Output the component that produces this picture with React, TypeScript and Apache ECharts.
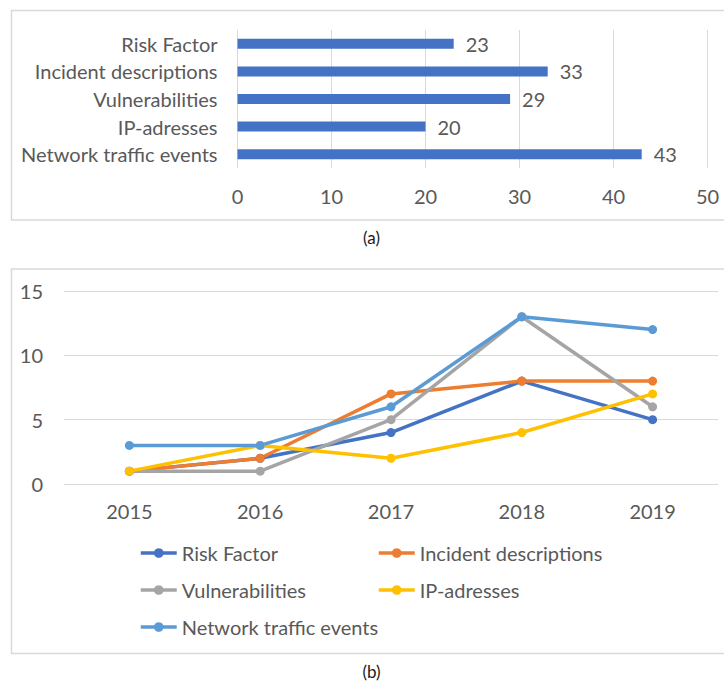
import React, { useEffect, useRef } from "react";
import * as echarts from "echarts";

const barCategories = ["Risk Factor", "Incident descriptions", "Vulnerabilities", "IP-adresses", "Network traffic events"];
const barValues = [23, 33, 29, 20, 43];

const years = ["2015", "2016", "2017", "2018", "2019"];
const seriesNames = ["Risk Factor", "Incident descriptions", "Vulnerabilities", "IP-adresses", "Network traffic events"];
const riskFactor = [1, 2, 4, 8, 5];
const incidentDescriptions = [1, 2, 7, 8, 8];
const vulnerabilities = [1, 1, 5, 13, 6];
const ipAdresses = [1, 3, 2, 4, 7];
const networkTraffic = [3, 3, 6, 13, 12];
const lineData = [riskFactor, incidentDescriptions, vulnerabilities, ipAdresses, networkTraffic];
const lineColors = ["#4472C4", "#ED7D31", "#A5A5A5", "#FFC000", "#5B9BD5"];

const FONT = "Lato";
const TXT = "#595959";
const GRID = "#D9D9D9";
const FS = 20;

const legendPos = [
  { left: 139, top: 553 },
  { left: 377, top: 553 },
  { left: 139, top: 590 },
  { left: 377, top: 590 },
  { left: 139, top: 627 },
];

export default function App() {
  const ref = useRef<HTMLDivElement>(null);
  useEffect(() => {
    if (!ref.current) return;
    const chart = echarts.init(ref.current, undefined, { renderer: "svg" });
    const option: any = {
      animation: false,
      textStyle: { fontFamily: FONT },
      grid: [
        { left: 237.5, right: 16.5, top: 30, height: 138 },
        { left: 64, right: 6, top: 291, height: 193 },
      ],
      xAxis: [
        {
          gridIndex: 0,
          type: "value",
          min: 0,
          max: 50,
          interval: 10,
          axisLine: { show: false },
          axisTick: { show: false },
          splitLine: { lineStyle: { color: GRID, width: 1 } },
          axisLabel: { color: TXT, fontSize: FS, fontFamily: FONT, margin: 18 },
        },
        {
          gridIndex: 1,
          type: "category",
          data: years,
          boundaryGap: true,
          axisLine: { show: false },
          axisTick: { show: false },
          axisLabel: { color: TXT, fontSize: FS, fontFamily: FONT, margin: 17 },
        },
      ],
      yAxis: [
        {
          gridIndex: 0,
          type: "category",
          data: barCategories,
          inverse: true,
          axisLine: { show: false },
          axisTick: { show: false },
          axisLabel: { color: TXT, fontSize: FS, fontFamily: FONT, margin: 20 },
        },
        {
          gridIndex: 1,
          type: "value",
          min: 0,
          max: 15,
          interval: 5,
          axisLine: { show: false },
          axisTick: { show: false },
          splitLine: { lineStyle: { color: GRID, width: 1 } },
          axisLabel: { color: TXT, fontSize: FS, fontFamily: FONT, margin: 21 },
        },
      ],
      legend: seriesNames.map((name, i) => ({
        data: [name],
        left: legendPos[i].left,
        top: legendPos[i].top - 11,
        padding: 0,
        itemWidth: 36,
        itemHeight: 12,
        selectedMode: false,
        lineStyle: { width: 3.5 },
        textStyle: { color: TXT, fontSize: FS, fontFamily: FONT, lineHeight: 22 },
      })),
      series: [
        {
          type: "bar",
          xAxisIndex: 0,
          yAxisIndex: 0,
          data: barValues,
          barWidth: 10,
          itemStyle: { color: "#4472C4" },
          label: {
            show: true,
            position: "right",
            distance: 12,
            color: TXT,
            fontSize: FS,
            fontFamily: FONT,
          },
        },
        ...seriesNames.map((name, i) => ({
          type: "line",
          name,
          xAxisIndex: 1,
          yAxisIndex: 1,
          data: lineData[i],
          symbol: "circle",
          symbolSize: 9,
          lineStyle: { color: lineColors[i], width: 3.5 },
          itemStyle: { color: lineColors[i] },
        })),
      ],
      graphic: [
        {
          type: "rect",
          shape: { x: 11.5, y: 10.5, width: 730, height: 209.5 },
          style: { fill: "none", stroke: GRID, lineWidth: 1.5 },
          silent: true,
        },
        {
          type: "rect",
          shape: { x: 11.5, y: 269, width: 730, height: 384.5 },
          style: { fill: "none", stroke: GRID, lineWidth: 1.5 },
          silent: true,
        },
        {
          type: "text",
          x: 371.5,
          y: 237,
          style: { text: "(a)", fill: "#1a1a1a", fontSize: 17, fontFamily: FONT, align: "center", verticalAlign: "middle" },
        },
        {
          type: "text",
          x: 371.5,
          y: 671,
          style: { text: "(b)", fill: "#1a1a1a", fontSize: 17, fontFamily: FONT, align: "center", verticalAlign: "middle" },
        },
      ],
    };
    chart.setOption(option);
    return () => chart.dispose();
  }, []);
  return (
    <div
      ref={ref}
      style={{ position: "absolute", left: 0, top: 0, width: 724, height: 682, background: "#fff" }}
    />
  );
}
